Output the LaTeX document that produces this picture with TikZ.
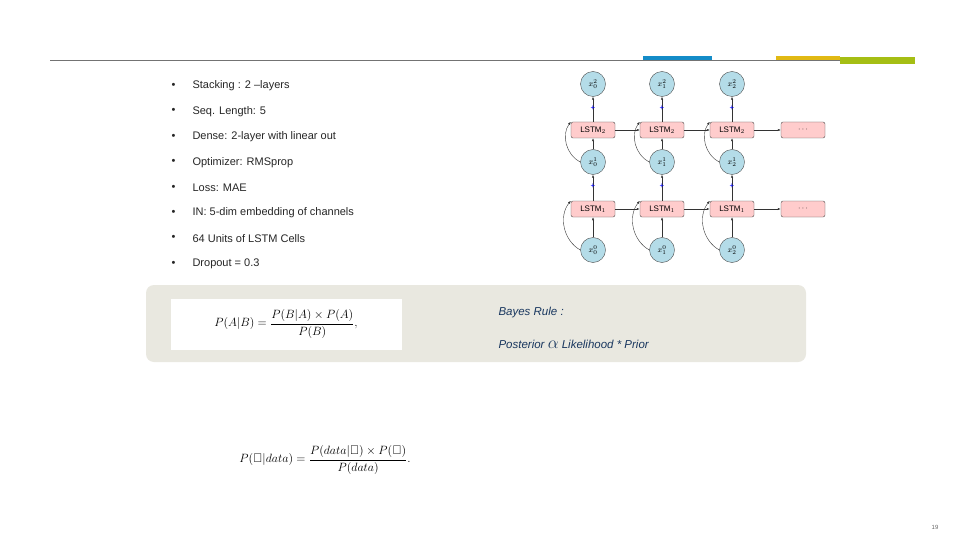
\documentclass[tikz,border=0pt]{standalone}
\usepackage{fontspec}
\setmainfont{Liberation Sans}
\usetikzlibrary{arrows.meta}
\definecolor{cblue}{RGB}{20,140,200}
\definecolor{cyel}{RGB}{225,185,20}
\definecolor{cgrn}{RGB}{165,190,20}
\definecolor{cbox}{RGB}{233,232,224}
\definecolor{cnavy}{RGB}{25,55,95}
\definecolor{ccirc}{RGB}{180,220,232}
\begin{document}
\begin{tikzpicture}[x=1pt,y=-1pt,
 circ/.style={circle,draw=black!70,fill=ccirc,minimum size=25pt,inner sep=0pt,font=\fontsize{8}{9}\selectfont},
 lstm/.style={rounded corners=2pt,draw=black!70,fill=red!20,minimum width=44pt,minimum height=16pt,inner sep=0pt,font=\fontsize{8}{9}\selectfont},
 arr/.style={-{Latex[length=3pt]},black!80,thin},
 bul/.style={anchor=west,font=\fontsize{11}{13}\selectfont,text=black!85},
 bayes/.style={anchor=west,font=\fontsize{11.5}{13}\selectfont\itshape,text=cnavy}]
\useasboundingbox (0,0) rectangle (960,540);
\fill[white] (0,0) rectangle (960,540);
% top rule
\draw[black!55,line width=1pt] (50,61) -- (915,61);
\fill[cblue] (643,56) rectangle (712,60);
\fill[cyel] (776,56) rectangle (840,60);
\fill[cgrn] (840,57) rectangle (915,64);
% bullets
\foreach \t [count=\i] in {Stacking : 2 --layers,Seq. Length: 5,Dense: 2-layer with linear out,Optimizer: RMSprop,Loss: MAE,IN: 5-dim embedding of channels,64 Units of LSTM Cells,Dropout = 0.3}{
 \node[bul] (b\i) at (168,{86+25.4*(\i-1)}) {\textbullet};
 \node[bul] (t\i) at (189,{86+25.4*(\i-1)}) {\t};
}
% LSTM diagram
\foreach \c/\x/\s in {0/593/0,1/662/1,2/732/2}{
 \node[circ] (a\c) at (\x,84) {$x_{\s}^{2}$};
 \node[lstm] (L2\c) at (\x,130) {LSTM$_2$};
 \node[circ] (m\c) at (\x,162) {$x_{\s}^{1}$};
 \node[lstm] (L1\c) at (\x,209) {LSTM$_1$};
 \node[circ] (z\c) at (\x,250) {$x_{\s}^{0}$};
 \draw[arr] (z\c) -- (L1\c);
 \draw[arr] (L1\c) -- (m\c);
 \draw[arr] (m\c) -- (L2\c);
 \draw[arr] (L2\c) -- (a\c);
 \draw[arr] (z\c.west) to[bend left=50] (L1\c.north west);
 \draw[arr] (m\c.west) to[bend left=50] (L2\c.north west);
 \node[text=blue,font=\fontsize{8}{8}\selectfont] (p2\c) at (\x,108) {+};
 \node[text=blue,font=\fontsize{8}{8}\selectfont] (p1\c) at (\x,186) {+};
}
\node[lstm] (L2d) at (803,130) {$\cdots$};
\node[lstm] (L1d) at (803,209) {$\cdots$};
\draw[arr] (L20) -- (L21); \draw[arr] (L21) -- (L22); \draw[arr] (L22) -- (L2d);
\draw[arr,thick] (L10) -- (L11); \draw[arr,thick] (L11) -- (L12); \draw[arr,thick] (L12) -- (L1d);
% gray box
\fill[cbox,rounded corners=8pt] (146,285) rectangle (806,362);
\fill[white] (171,299) rectangle (402,350);
\node[font=\fontsize{12.5}{14}\selectfont] (f1) at (286,324) {$\displaystyle P(A|B)=\frac{P(B|A)\times P(A)}{P(B)},$};
\node[bayes] (br) at (495,313) {Bayes Rule :};
\node[bayes] (po) at (495,344) {Posterior {\upshape\fontsize{17}{17}\selectfont$\alpha$} Likelihood * Prior};
\node[font=\fontsize{12.5}{14}\selectfont] (f2) at (325,460) {$\displaystyle P(\mathbf{\Theta}|data)=\frac{P(data|\mathbf{\Theta})\times P(\mathbf{\Theta})}{P(data)}.$};
\node[font=\fontsize{6}{6}\selectfont,text=black!60] (pg) at (935,527) {19};
\end{tikzpicture}
\end{document}
